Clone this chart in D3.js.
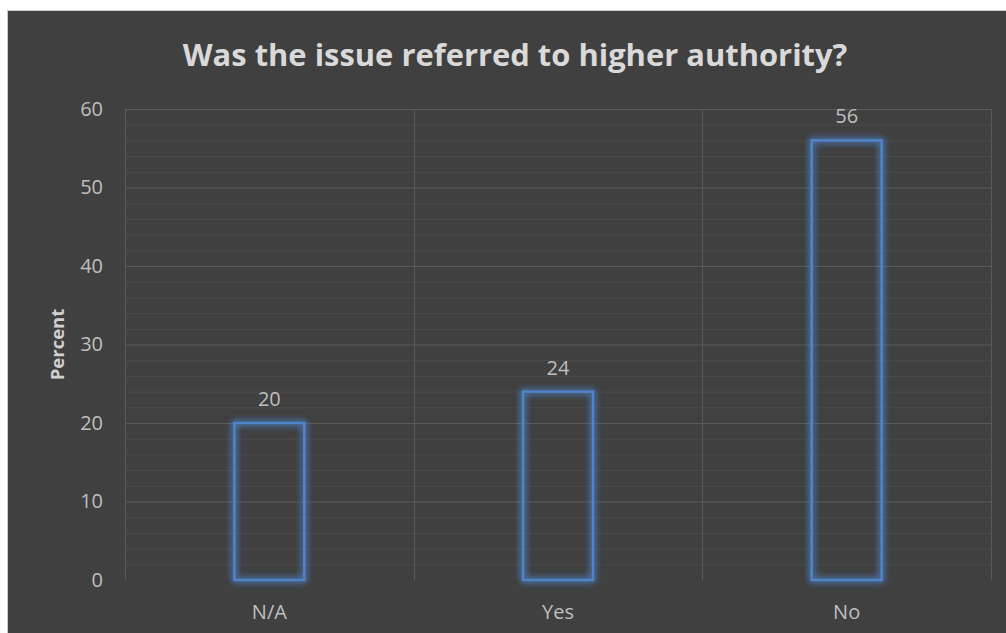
<!DOCTYPE html>
<html>
<head>
<meta charset="utf-8">
<script src="https://cdn.jsdelivr.net/npm/d3@7"></script>
<style>
  html, body { margin: 0; padding: 0; background: #ffffff; }
  svg { display: block; }
</style>
</head>
<body>
<svg id="chart" width="1006" height="633"></svg>
<script>
// Survey answers and their share of respondents
const categories = ["N/A", "Yes", "No"];
const values = [20, 24, 56];
const yTicks = [0, 10, 20, 30, 40, 50, 60];
const minorTicks = [2, 4, 6, 8, 12, 14, 16, 18, 22, 24, 26, 28, 32, 34, 36, 38, 42, 44, 46, 48, 52, 54, 56, 58];
const titleText = "Was the issue referred to higher authority?";
const yAxisTitle = "Percent";

const W = 1006, H = 633;
const frame = { x: 8, y: 11 };
const plot = { left: 125, right: 991, top: 109, bottom: 580 };
const font = "'Open Sans', 'Noto Sans', sans-serif";
const labelSize = "20px";
const labelColor = "#bfbfbf";

const svg = d3.select("#chart");

// Glow around the bar outlines
const defs = svg.append("defs");
const glow = defs.append("filter").attr("id", "glow")
  .attr("x", "-30%").attr("y", "-30%").attr("width", "160%").attr("height", "160%");
glow.append("feGaussianBlur").attr("in", "SourceGraphic").attr("stdDeviation", 3.5).attr("result", "blur");
const merge = glow.append("feMerge");
merge.append("feMergeNode").attr("in", "blur");
merge.append("feMergeNode").attr("in", "blur");
merge.append("feMergeNode").attr("in", "SourceGraphic");

// Chart background with light frame edge
svg.append("rect")
  .attr("x", frame.x - 1).attr("y", frame.y - 1)
  .attr("width", W - frame.x + 1).attr("height", H - frame.y + 1)
  .attr("fill", "#c8c8c8");
svg.append("rect")
  .attr("x", frame.x).attr("y", frame.y)
  .attr("width", W - frame.x).attr("height", H - frame.y)
  .attr("fill", "#404040");

const x = d3.scaleBand().domain(categories).range([plot.left, plot.right]).paddingInner(0).paddingOuter(0);
const y = d3.scaleLinear().domain([0, 60]).range([plot.bottom, plot.top]);

// Minor gridlines
svg.append("g").selectAll("line").data(minorTicks).join("line")
  .attr("x1", plot.left).attr("x2", plot.right)
  .attr("y1", d => y(d) + 0.5).attr("y2", d => y(d) + 0.5)
  .attr("stroke", "#4b4b4b").attr("stroke-width", 1);

// Major gridlines
svg.append("g").selectAll("line").data(yTicks.filter(d => d > 0)).join("line")
  .attr("x1", plot.left).attr("x2", plot.right)
  .attr("y1", d => y(d) + 0.5).attr("y2", d => y(d) + 0.5)
  .attr("stroke", "#5a5a5a").attr("stroke-width", 1);

// Vertical category boundaries
const bounds = categories.map(c => x(c)).concat([plot.right]);
svg.append("g").selectAll("line").data(bounds).join("line")
  .attr("x1", d => Math.round(d) + 0.5).attr("x2", d => Math.round(d) + 0.5)
  .attr("y1", plot.top).attr("y2", plot.bottom)
  .attr("stroke", "#5a5a5a").attr("stroke-width", 1);

// Y axis tick labels
const yAxis = d3.axisLeft(y).tickValues(yTicks).tickSize(0).tickPadding(0);
const yG = svg.append("g").attr("transform", `translate(${plot.left - 22},0)`).call(yAxis);
yG.select(".domain").remove();
yG.selectAll("text")
  .attr("fill", labelColor).style("font-family", font).style("font-size", labelSize);

// X axis category labels
const xAxis = d3.axisBottom(x).tickSize(0).tickPadding(0);
const xG = svg.append("g").attr("transform", `translate(0,${plot.bottom + 25})`).call(xAxis);
xG.select(".domain").remove();
xG.selectAll("text")
  .attr("fill", labelColor).style("font-family", font).style("font-size", labelSize);

// Bars: outline only, with glow
const barW = 70;
svg.append("g").selectAll("rect").data(values).join("rect")
  .attr("x", (d, i) => x(categories[i]) + x.bandwidth() / 2 - barW / 2)
  .attr("y", d => y(d))
  .attr("width", barW)
  .attr("height", d => y(0) - y(d))
  .attr("fill", "none")
  .attr("stroke", "#4f84c9")
  .attr("stroke-width", 2.5)
  .attr("filter", "url(#glow)");

// Value labels above bars
svg.append("g").selectAll("text").data(values).join("text")
  .attr("x", (d, i) => x(categories[i]) + x.bandwidth() / 2)
  .attr("y", d => y(d) - 17)
  .attr("text-anchor", "middle")
  .attr("fill", labelColor).style("font-family", font).style("font-size", labelSize)
  .text(d => d);

// Y axis title
svg.append("text")
  .attr("transform", `translate(64,${(plot.top + plot.bottom) / 2}) rotate(-90)`)
  .attr("text-anchor", "middle")
  .attr("fill", "#d0d0d0").style("font-family", font).style("font-size", "18.5px").style("font-weight", "bold")
  .text(yAxisTitle);

// Chart title, sized to its target width
const title = svg.append("text")
  .attr("x", 515).attr("y", 66)
  .attr("text-anchor", "middle")
  .attr("fill", "#d9d9d9").style("font-family", font).style("font-weight", "bold").style("font-size", "30px")
  .text(titleText);
const tw = title.node().getComputedTextLength();
title.style("font-size", (30 * 665 / tw).toFixed(2) + "px");
</script>
</body>
</html>
